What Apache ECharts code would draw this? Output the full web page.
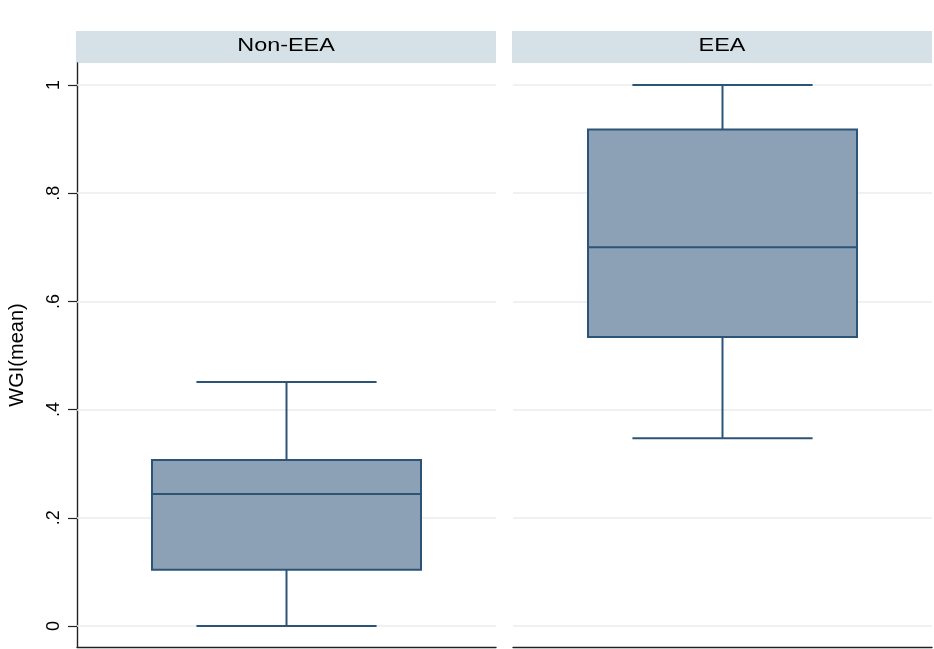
<!DOCTYPE html>
<html>
<head>
<meta charset="utf-8">
<script src="https://cdn.jsdelivr.net/npm/echarts@6/dist/echarts.min.js"></script>
<style>
  html, body { margin: 0; padding: 0; background: #ffffff; }
  #chart { width: 934px; height: 649px; }
</style>
</head>
<body>
<div id="chart"></div>
<script>
// Panel groups and box summary statistics of WGI(mean)
const groups   = ['Non-EEA', 'EEA'];
const lowWhisk = [0.000, 0.347];
const q1       = [0.104, 0.534];
const medians  = [0.244, 0.700];
const q3       = [0.307, 0.918];
const highWhisk= [0.451, 1.000];

// Y tick values and their labels
const yTicks  = [0, 0.2, 0.4, 0.6, 0.8, 1];
const yLabels = ['0', '.2', '.4', '.6', '.8', '1'];

const FONT = '"Liberation Sans", Arial, Helvetica, sans-serif';
const BOX_FILL = '#8ca0b6';
const BOX_LINE = '#2c5477';
const GRID_LINE = '#e8eef1';
const STRIP_FILL = '#d5e1e7';
const AXIS_COLOR = '#222222';

const chart = echarts.init(document.getElementById('chart'), null, { renderer: 'canvas' });

const panels = [
  { left: 77, right: 438 },
  { left: 513, right: 2 }
];

const grids = panels.map(p => ({ left: p.left, right: p.right, top: 63, bottom: 2, containLabel: false }));

const xAxes = groups.map((g, i) => ({
  type: 'category',
  gridIndex: i,
  data: [g],
  axisLine: { show: true, onZero: false, lineStyle: { color: AXIS_COLOR, width: 1.4 } },
  axisTick: { show: false },
  axisLabel: { show: false },
  splitLine: { show: false }
}));

const yAxes = groups.map((g, i) => ({
  type: 'value',
  gridIndex: i,
  min: -0.0388,
  max: 1.0407,
  name: i === 0 ? 'WGI(mean)' : '',
  nameLocation: 'middle',
  nameRotate: 90,
  nameGap: 50,
  nameTextStyle: { fontFamily: FONT, fontSize: 20, color: '#000' },
  axisLine: { show: i === 0, onZero: false, lineStyle: { color: AXIS_COLOR, width: 1.4 } },
  axisTick: {
    show: i === 0,
    length: 9,
    customValues: yTicks,
    lineStyle: { color: AXIS_COLOR, width: 1.2 }
  },
  axisLabel: {
    show: i === 0,
    customValues: yTicks,
    rotate: 90,
    margin: 14,
    fontFamily: FONT,
    fontSize: 18,
    color: '#000',
    formatter: v => {
      const k = yTicks.findIndex(t => Math.abs(t - v) < 1e-9);
      return k >= 0 ? yLabels[k] : '';
    }
  },
  splitLine: { show: false }
}));

// Box-and-whisker drawn through the axis scales
function renderBox(i) {
  return function (params, api) {
    const cx = api.coord([0, 0])[0];
    const band = api.size([1, 0])[0];
    const boxHalf = band * 0.642 / 2;
    const capHalf = band * 0.43 / 2;
    const y = v => api.coord([0, v])[1];
    const yLo = y(lowWhisk[i]), yQ1 = y(q1[i]), yMed = y(medians[i]), yQ3 = y(q3[i]), yHi = y(highWhisk[i]);
    const lineStyle = { stroke: BOX_LINE, lineWidth: 2 };
    return {
      type: 'group',
      children: [
        { type: 'line', shape: { x1: cx, y1: yHi, x2: cx, y2: yQ3 }, style: lineStyle },
        { type: 'line', shape: { x1: cx, y1: yQ1, x2: cx, y2: yLo }, style: lineStyle },
        { type: 'line', shape: { x1: cx - capHalf, y1: yHi, x2: cx + capHalf, y2: yHi }, style: lineStyle },
        { type: 'line', shape: { x1: cx - capHalf, y1: yLo, x2: cx + capHalf, y2: yLo }, style: lineStyle },
        { type: 'rect', shape: { x: cx - boxHalf, y: yQ3, width: boxHalf * 2, height: yQ1 - yQ3 },
          style: { fill: BOX_FILL, stroke: BOX_LINE, lineWidth: 2 } },
        { type: 'line', shape: { x1: cx - boxHalf, y1: yMed, x2: cx + boxHalf, y2: yMed }, style: lineStyle }
      ]
    };
  };
}

const series = [];
groups.forEach((g, i) => {
  // horizontal grid lines at the y ticks
  series.push({
    type: 'line',
    xAxisIndex: i,
    yAxisIndex: i,
    data: [],
    silent: true,
    z: 1,
    markLine: {
      silent: true,
      z: 1,
      symbol: 'none',
      label: { show: false },
      lineStyle: { color: GRID_LINE, width: 1.5, type: 'solid' },
      data: yTicks.map(t => ({ yAxis: t }))
    }
  });
  series.push({
    type: 'custom',
    name: g,
    xAxisIndex: i,
    yAxisIndex: i,
    data: [[0, medians[i]]],
    renderItem: renderBox(i),
    z: 10
  });
});

// Panel header strips
const graphic = panels.map((p, i) => {
  const x0 = p.left - 1;
  const x1 = 934 - p.right;
  return {
    type: 'group',
    children: [
      { type: 'rect', shape: { x: x0, y: 31, width: x1 - x0, height: 32 }, style: { fill: STRIP_FILL } },
      { type: 'text', x: (x0 + x1) / 2, y: 46, scaleX: 1.3,
        style: { text: groups[i], fill: '#000', font: '18px ' + FONT, align: 'center', verticalAlign: 'middle' } }
    ]
  };
});

chart.setOption({
  backgroundColor: '#ffffff',
  animation: false,
  grid: grids,
  xAxis: xAxes,
  yAxis: yAxes,
  series: series,
  graphic: graphic
});
</script>
</body>
</html>
